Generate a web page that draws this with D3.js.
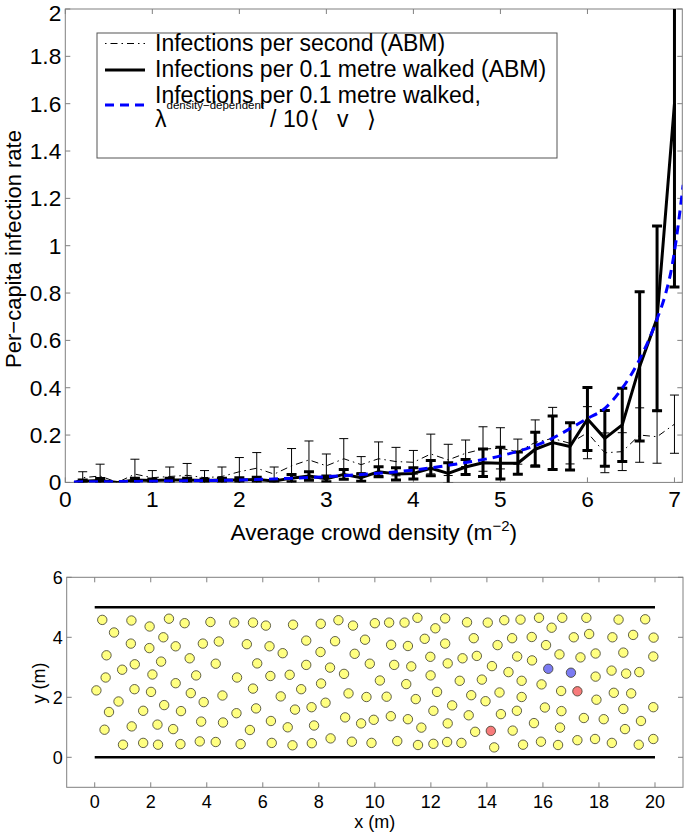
<!DOCTYPE html>
<html><head><meta charset="utf-8">
<script src="https://cdn.jsdelivr.net/npm/d3@7"></script>
<style>
body{margin:0;background:#fff}
svg{display:block}
text{font-family:"Liberation Sans",Arial,Helvetica,sans-serif;fill:#000}
</style></head>
<body><svg id="c" width="686" height="832"></svg>
<script>
// ---------- top panel data ----------
const densityX = [0.1,0.2,0.4,0.6,0.8,1.0,1.2,1.4,1.6,1.8,2.0,2.2,2.4,2.6,2.8,3.0,3.2,3.4,3.6,3.8,4.0,4.2,4.4,4.6,4.8,5.0,5.2,5.4,5.6,5.8,6.0,6.2,6.4,6.6,6.8,7.0];
const perSecondMean = [0,0.02,0.027,0,0.035,0.02,0.025,0.03,0.02,0.025,0.045,0.06,0.035,0.07,0.095,0.07,0.1,0.075,0.1,0.088,0.085,0.12,0.095,0.123,0.141,0.144,0.13,0.169,0.186,0.165,0.21,0.125,0.13,0.2,0.193,0.246];
const perSecondErr = [0,0.025,0.05,0,0.063,0.03,0.04,0.05,0.03,0.04,0.06,0.066,0.03,0.073,0.08,0.05,0.085,0.034,0.071,0.06,0.05,0.084,0.066,0.056,0.094,0.087,0.053,0.095,0.131,0.087,0.11,0.084,0.08,0.115,0.112,0.123];
const perMetreMean = [0,0.005,0.008,0,0.01,0.008,0.01,0.01,0.008,0.01,0.01,0.012,0.006,0.018,0.027,0.015,0.034,0.02,0.045,0.036,0.038,0.06,0.038,0.065,0.083,0.081,0.081,0.14,0.168,0.152,0.268,0.186,0.243,0.49,0.693,1.6];
const perMetreErr = [0,0.005,0.008,0,0.008,0.006,0.008,0.008,0.006,0.008,0.01,0.01,0.006,0.015,0.018,0.012,0.021,0.015,0.021,0.026,0.024,0.032,0.045,0.032,0.058,0.067,0.047,0.072,0.113,0.1,0.133,0.118,0.155,0.315,0.39,0.775];
const modelX = [0.1,0.5,1.0,1.5,2.0,2.5,3.0,3.5,4.0,4.5,5.0,5.5,6.0,6.2,6.4,6.6,6.8,6.9,6.97,7.02,7.06,7.1];
const modelY = [0.002,0.003,0.005,0.007,0.01,0.016,0.024,0.036,0.052,0.078,0.112,0.17,0.27,0.313,0.398,0.52,0.69,0.8,0.91,1.025,1.137,1.257];
const topXTicks = [0,1,2,3,4,5,6,7];
const topXTickLabels = ["0","1","2","3","4","5","6","7"];
const topYTicks = [0,0.2,0.4,0.6,0.8,1,1.2,1.4,1.6,1.8,2];
const topYTickLabels = ["0","0.2","0.4","0.6","0.8","1","1.2","1.4","1.6","1.8","2"];
const legendLabels = ["Infections per second (ABM)","Infections per 0.1 metre walked (ABM)","Infections per 0.1 metre walked,"];

// ---------- bottom panel data ----------
const susceptibleX = [0.27,1.31,1.96,2.65,3.21,4.13,4.98,5.65,6.11,7.08,8.07,8.70,
 0.69,1.29,1.95,2.45,2.89,3.86,4.43,5.43,6.24,6.71,7.55,8.58,8.06,
 0.42,0.98,1.43,2.37,2.06,3.39,4.32,3.62,5.08,5.80,7.55,8.40,6.96,6.27,8.08,
 0.06,0.39,1.42,2.01,2.89,3.43,3.89,4.56,5.65,6.64,7.37,
 0.85,0.51,1.73,2.48,3.08,3.80,4.58,5.06,5.76,7.74,8.24,7.15,
 0.35,1.32,2.24,2.80,5.54,6.29,6.89,7.83,
 1.01,1.73,2.26,3.06,3.75,4.32,5.21,6.32,7.06,7.75,8.42,
 9.22,10.00,10.51,11.06,11.52,12.51,13.29,14.03,14.62,15.20,15.86,16.69,17.55,18.70,19.65,12.16,16.31,
 9.65,10.58,11.18,11.78,12.51,13.53,14.38,14.90,15.60,16.11,17.10,17.65,18.48,19.22,19.95,
 9.28,9.82,10.69,11.30,11.98,12.60,13.13,13.64,14.18,15.08,15.61,16.59,17.34,17.88,18.87,19.94,
 8.90,10.18,11.12,11.99,13.03,13.82,14.77,15.24,15.95,17.88,18.45,18.97,19.44,
 9.06,9.70,10.42,11.46,12.22,13.44,13.95,14.45,15.24,16.65,17.91,18.53,19.15,
 8.94,9.51,9.96,10.57,11.18,11.66,12.09,12.60,12.76,13.35,14.50,15.07,15.68,16.07,16.66,17.46,18.17,18.87,19.50,19.94,
 13.58,14.92,16.61,18.93,
 9.18,9.88,10.80,11.54,12.09,12.58,13.09,14.26,15.29,15.93,16.54,17.23,17.86,18.46,19.42,19.94];
const susceptibleY = [4.58,4.56,4.36,4.62,4.47,4.51,4.49,4.49,4.39,4.42,4.45,4.57,
 4.16,3.79,3.64,4.00,3.70,3.79,3.86,3.77,3.70,3.47,3.89,3.87,3.51,
 3.40,2.92,3.10,3.19,2.76,3.30,3.12,2.73,2.66,3.13,3.08,2.99,2.75,2.71,2.46,
 2.23,2.66,2.27,2.18,2.47,2.14,1.84,2.06,2.29,2.03,2.27,
 1.86,1.51,1.55,1.74,1.54,1.19,1.16,1.47,1.63,1.67,1.82,1.59,
 0.92,1.03,1.09,0.94,0.91,1.21,1.00,1.06,
 0.42,0.48,0.42,0.44,0.53,0.51,0.44,0.48,0.40,0.47,0.63,
 4.39,4.47,4.49,4.49,4.65,4.63,4.50,4.49,4.57,4.59,4.65,4.65,4.65,4.59,4.60,4.30,4.32,
 3.92,3.75,3.71,3.95,3.79,3.97,3.74,3.97,4.01,3.74,4.00,4.11,4.00,4.08,3.99,
 3.45,3.12,3.08,3.03,3.35,3.13,3.30,3.38,3.04,3.36,3.23,3.43,3.33,3.46,3.49,3.36,
 2.78,2.56,2.44,2.73,2.55,2.59,2.84,2.55,2.43,2.69,2.89,2.79,2.84,
 2.13,2.01,2.02,1.94,2.18,2.07,1.87,2.16,2.01,2.21,1.92,2.15,2.13,
 1.33,1.13,1.25,1.37,1.27,0.99,1.55,1.13,1.73,1.40,1.44,1.55,1.14,1.66,1.54,1.31,1.27,1.61,1.21,1.67,
 0.85,0.89,0.99,0.94,
 0.52,0.48,0.54,0.41,0.45,0.51,0.48,0.33,0.42,0.52,0.41,0.57,0.61,0.48,0.42,0.61];
const infectedX = [17.23,14.14];
const infectedY = [2.20,0.88];
const markedX = [16.19,17.00];
const markedY = [2.95,2.82];
const botXTicks = [0,2,4,6,8,10,12,14,16,18,20];
const botYTicks = [0,2,4,6];

// ---------- drawing ----------
const svg = d3.select("#c");
const FONT = 22.7, LFONT = 23, BFONT = 18;
const axisColor = "#808080";

// TOP PANEL
const tL=65.3, tR=682.3, tT=9, tB=482.4;
const x = d3.scaleLinear().domain([0,7.09]).range([tL,tR]);
const y = d3.scaleLinear().domain([0,2]).range([tB,tT]);

svg.append("defs").append("clipPath").attr("id","clipTop")
  .append("rect").attr("x",tL).attr("y",tT).attr("width",tR-tL).attr("height",tB-tT);

const topG = svg.append("g");
topG.append("rect").attr("x",tL).attr("y",tT).attr("width",tR-tL).attr("height",tB-tT)
  .attr("fill","#fff").attr("stroke",axisColor).attr("stroke-width",1);

const tk = 5;
topXTicks.forEach((v,i)=>{
  const px = x(v);
  topG.append("line").attr("x1",px).attr("x2",px).attr("y1",tB).attr("y2",tB-tk).attr("stroke",axisColor);
  topG.append("line").attr("x1",px).attr("x2",px).attr("y1",tT).attr("y2",tT+tk).attr("stroke",axisColor);
  topG.append("text").attr("x",px).attr("y",tB+25).attr("text-anchor","middle").attr("font-size",FONT).text(topXTickLabels[i]);
});
topYTicks.forEach((v,i)=>{
  const py = y(v);
  topG.append("line").attr("x1",tL).attr("x2",tL+tk).attr("y1",py).attr("y2",py).attr("stroke",axisColor);
  topG.append("line").attr("x1",tR).attr("x2",tR-tk).attr("y1",py).attr("y2",py).attr("stroke",axisColor);
  topG.append("text").attr("x",tL-4).attr("y",Math.max(py+8,21)).attr("text-anchor","end").attr("font-size",FONT).text(topYTickLabels[i]);
});

const plot = topG.append("g").attr("clip-path","url(#clipTop)");

function errorBars(g, means, errs, width, cap){
  densityX.forEach((d,i)=>{
    if(errs[i] <= 0) return;
    const px = x(d), y1 = y(means[i]-errs[i]), y2 = y(means[i]+errs[i]);
    g.append("line").attr("x1",px).attr("x2",px).attr("y1",y1).attr("y2",y2).attr("stroke","#000").attr("stroke-width",width);
    [y1,y2].forEach(yy=>g.append("line").attr("x1",px-cap).attr("x2",px+cap).attr("y1",yy).attr("y2",yy).attr("stroke","#000").attr("stroke-width",width));
  });
}
const lineGen = (ys)=>d3.line().x((d,i)=>x(densityX[i])).y((d,i)=>y(ys[i]))(densityX);

// per second (thin, dash-dot)
errorBars(plot, perSecondMean, perSecondErr, 1, 4.5);
plot.append("path").attr("d",lineGen(perSecondMean)).attr("fill","none").attr("stroke","#000")
  .attr("stroke-width",1).attr("stroke-dasharray","7,4,1.5,4");
// per metre (thick, solid)
errorBars(plot, perMetreMean, perMetreErr, 3, 5);
plot.append("path").attr("d",lineGen(perMetreMean)).attr("fill","none").attr("stroke","#000")
  .attr("stroke-width",3).attr("stroke-linejoin","round");
// model (blue dashed)
const modelLine = d3.line().x((d,i)=>x(modelX[i])).y((d,i)=>y(modelY[i])).curve(d3.curveMonotoneX);
plot.append("path").attr("d",modelLine(modelX)).attr("fill","none").attr("stroke","#0000ff")
  .attr("stroke-width",3).attr("stroke-dasharray","9,6");

// axis labels
topG.append("text").attr("x",(tL+tR)/2).attr("y",540).attr("text-anchor","middle").attr("font-size",FONT)
  .call(t=>{
    t.append("tspan").text("Average crowd density (m");
    t.append("tspan").attr("font-size",15).attr("dy",-9).text("\u22122");
    t.append("tspan").attr("dy",9).text(")");
  });
topG.append("text").attr("transform","translate(21,249) rotate(-90)").attr("text-anchor","middle")
  .attr("font-size",22).text("Per\u2212capita infection rate");

// legend
const lg = topG.append("g");
lg.append("rect").attr("x",97).attr("y",33).attr("width",460).attr("height",125)
  .attr("fill","#fff").attr("stroke","#555").attr("stroke-width",1);
lg.append("line").attr("x1",105).attr("x2",145).attr("y1",43.5).attr("y2",43.5).attr("stroke","#000").attr("stroke-width",1).attr("stroke-dasharray","1.5,4,7,4");
lg.append("line").attr("x1",105).attr("x2",145).attr("y1",70).attr("y2",70).attr("stroke","#000").attr("stroke-width",3);
lg.append("line").attr("x1",105).attr("x2",148).attr("y1",105).attr("y2",105).attr("stroke","#0000ff").attr("stroke-width",3).attr("stroke-dasharray","9,6");
lg.append("text").attr("x",155).attr("y",50.7).attr("font-size",LFONT).text(legendLabels[0]);
lg.append("text").attr("x",155).attr("y",76.5).attr("font-size",LFONT).text(legendLabels[1]);
lg.append("text").attr("x",155).attr("y",102.5).attr("font-size",LFONT)
  .call(t=>{
    t.append("tspan").text(legendLabels[2]);
    t.append("tspan").attr("x",155).attr("dy",24.2).text("\u03bb");
    t.append("tspan").attr("font-size",11.5).attr("dy",-17.4).text("density\u2212dependent");
    t.append("tspan").attr("x",270).attr("dy",17.4).text("/");
    t.append("tspan").attr("x",283).text("10");
    t.append("tspan").attr("x",310).text("\u27e8");
    t.append("tspan").attr("x",337).text("v");
    t.append("tspan").attr("x",367).text("\u27e9");
  });

// BOTTOM PANEL
const bL=66.7, bR=683, bT=577.3, bB=787.3;
const xb = d3.scaleLinear().domain([-1,21]).range([bL,bR]);
const yb = d3.scaleLinear().domain([-1,6]).range([bB,bT]);
const bot = svg.append("g");
bot.append("rect").attr("x",bL).attr("y",bT).attr("width",bR-bL).attr("height",bB-bT)
  .attr("fill","#fff").attr("stroke",axisColor).attr("stroke-width",1);
botXTicks.forEach(v=>{
  const px = xb(v);
  bot.append("line").attr("x1",px).attr("x2",px).attr("y1",bB).attr("y2",bB-tk).attr("stroke",axisColor);
  bot.append("line").attr("x1",px).attr("x2",px).attr("y1",bT).attr("y2",bT+tk).attr("stroke",axisColor);
  bot.append("text").attr("x",px).attr("y",807.5).attr("text-anchor","middle").attr("font-size",BFONT).text(String(v));
});
botYTicks.forEach(v=>{
  const py = yb(v);
  bot.append("line").attr("x1",bL).attr("x2",bL+tk).attr("y1",py).attr("y2",py).attr("stroke",axisColor);
  bot.append("line").attr("x1",bR).attr("x2",bR-tk).attr("y1",py).attr("y2",py).attr("stroke",axisColor);
  bot.append("text").attr("x",bL-4).attr("y",py+6.5).attr("text-anchor","end").attr("font-size",BFONT).text(String(v));
});
// walls
[0,5].forEach(w=>{
  bot.append("line").attr("x1",xb(0)).attr("x2",xb(20)).attr("y1",yb(w)).attr("y2",yb(w)).attr("stroke","#000").attr("stroke-width",2.5);
});
const R = 4.7;
function people(xs, ys, fill){
  bot.append("g").selectAll("circle").data(xs).join("circle")
    .attr("cx",(d)=>xb(d)).attr("cy",(d,i)=>yb(ys[i])).attr("r",R)
    .attr("fill",fill).attr("stroke","#3a3a2a").attr("stroke-width",0.8);
}
people(susceptibleX, susceptibleY, "#ffff80");
people(infectedX, infectedY, "#f77b7b");
people(markedX, markedY, "#7b7bf2");

bot.append("text").attr("x",xb(10)).attr("y",827.5).attr("text-anchor","middle").attr("font-size",BFONT).text("x (m)");
bot.append("text").attr("transform","translate(45,683) rotate(-90)").attr("text-anchor","middle").attr("font-size",BFONT).text("y (m)");
</script></body></html>
